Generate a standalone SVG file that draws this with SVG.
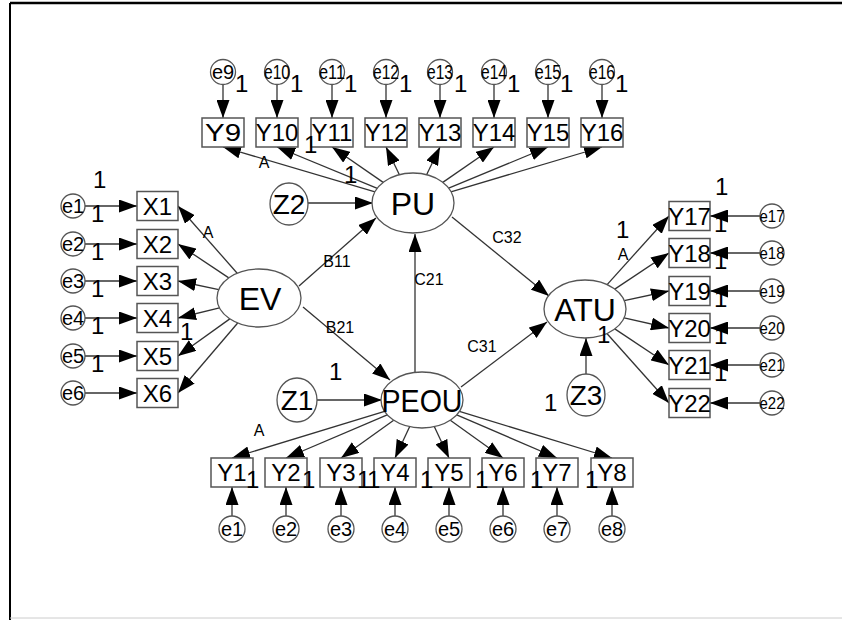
<svg xmlns="http://www.w3.org/2000/svg" width="842" height="620" viewBox="0 0 842 620">
<style>
text{font-family:"Liberation Sans",Arial,sans-serif;fill:#000}
.c line{stroke:#333;stroke-width:1.3;fill:none}
.box{fill:#fff;stroke:#555;stroke-width:1.5}
.ell{fill:#fff;stroke:#555;stroke-width:1.3}
.bl{font-size:24px;text-anchor:middle}
.el{font-size:20px;text-anchor:middle}
.lt{font-size:32px;text-anchor:middle}
.zl{font-size:28px;text-anchor:middle}
.pl{font-size:16px;text-anchor:middle}
.one{font-size:24px}
</style>
<defs>
<marker id="ah" markerWidth="18" markerHeight="13" refX="18" refY="6.5" orient="auto" markerUnits="userSpaceOnUse"><path d="M0,0 L18,6.5 L0,13 z" fill="#000"/></marker>
</defs>
<rect width="842" height="620" fill="#fff"/>
<g id="frame">
<line x1="10" y1="3" x2="842" y2="3" stroke="#000" stroke-width="2.5"/>
<line x1="10" y1="3" x2="10" y2="620" stroke="#000" stroke-width="2"/>
<line x1="10" y1="618" x2="842" y2="618" stroke="#ccc" stroke-width="1"/>
</g>
<g id="connectors" class="c" marker-end="url(#ah)">
<line x1="223" y1="84" x2="223" y2="118"/><line x1="277" y1="84" x2="277" y2="118"/><line x1="332" y1="84" x2="332" y2="118"/><line x1="386" y1="84" x2="386" y2="118"/><line x1="440" y1="84" x2="440" y2="118"/><line x1="494" y1="84" x2="494" y2="118"/><line x1="548" y1="84" x2="548" y2="118"/><line x1="602" y1="84" x2="602" y2="118"/>
<line x1="85" y1="206" x2="137" y2="206"/><line x1="85" y1="244" x2="137" y2="244"/><line x1="85" y1="281" x2="137" y2="281"/><line x1="85" y1="318" x2="137" y2="318"/><line x1="85" y1="356" x2="137" y2="356"/><line x1="85" y1="393" x2="137" y2="393"/>
<line x1="760" y1="216" x2="710" y2="216"/><line x1="760" y1="253" x2="710" y2="253"/><line x1="760" y1="291" x2="710" y2="291"/><line x1="760" y1="328" x2="710" y2="328"/><line x1="760" y1="365" x2="710" y2="365"/><line x1="760" y1="403" x2="710" y2="403"/>
<line x1="232" y1="516" x2="232" y2="487"/><line x1="286" y1="516" x2="286" y2="487"/><line x1="341" y1="516" x2="341" y2="487"/><line x1="395" y1="516" x2="395" y2="487"/><line x1="449" y1="516" x2="449" y2="487"/><line x1="503" y1="516" x2="503" y2="487"/><line x1="557" y1="516" x2="557" y2="487"/><line x1="612" y1="516" x2="612" y2="487"/>
<line x1="375" y1="191.8" x2="223" y2="147"/><line x1="377.3" y1="188.3" x2="277" y2="147"/><line x1="383.2" y1="182.4" x2="332" y2="147"/><line x1="399.4" y1="174.7" x2="386" y2="147"/><line x1="426.6" y1="174.7" x2="440" y2="147"/><line x1="442.8" y1="182.4" x2="494" y2="147"/><line x1="448.7" y1="188.2" x2="548" y2="147"/><line x1="450.9" y1="191.8" x2="602" y2="147"/>
<line x1="237.2" y1="273.2" x2="178" y2="206"/><line x1="228.8" y1="277.9" x2="178" y2="244"/><line x1="218.8" y1="289.6" x2="178" y2="281"/><line x1="219.5" y1="307.8" x2="178" y2="318"/><line x1="229.8" y1="318.9" x2="178" y2="356"/><line x1="237.7" y1="323" x2="178" y2="393"/>
<line x1="384.6" y1="411.4" x2="232" y2="458"/><line x1="387.2" y1="414.8" x2="286" y2="458"/><line x1="393.7" y1="420.3" x2="341" y2="458"/><line x1="409.6" y1="426.7" x2="395" y2="458"/><line x1="434.4" y1="426.7" x2="449" y2="458"/><line x1="450.3" y1="420.3" x2="503" y2="458"/><line x1="456.7" y1="414.9" x2="557" y2="458"/><line x1="459.4" y1="411.4" x2="612" y2="458"/>
<line x1="607.1" y1="284.6" x2="669" y2="216"/><line x1="614.8" y1="289.1" x2="669" y2="253"/><line x1="624.2" y1="300.6" x2="669" y2="291"/><line x1="624.1" y1="317.8" x2="669" y2="328"/><line x1="614.8" y1="328.9" x2="669" y2="365"/><line x1="606.9" y1="333.5" x2="669" y2="403"/>
<line x1="299" y1="286" x2="376" y2="218"/>
<line x1="303" y1="307" x2="390" y2="380"/>
<line x1="415" y1="372" x2="415" y2="234"/>
<line x1="452" y1="217" x2="549" y2="296"/>
<line x1="461" y1="387" x2="547" y2="322"/>
<line x1="307" y1="203" x2="373" y2="203"/>
<line x1="317" y1="400" x2="382" y2="400"/>
<line x1="586" y1="374" x2="586" y2="338"/>
</g>
<g id="latents">
<g id="PU"><ellipse class="ell" cx="413" cy="203" rx="41" ry="30"/><text class="lt" x="413" y="215">PU</text></g>
<g id="EV"><ellipse class="ell" cx="259" cy="298" rx="42" ry="29"/><text class="lt" x="260" y="310">EV</text></g>
<g id="ATU"><ellipse class="ell" cx="585" cy="309" rx="41" ry="29"/><text class="lt" x="585" y="321">ATU</text></g>
<g id="PEOU"><ellipse class="ell" cx="422" cy="400" rx="41" ry="28"/><text class="lt" x="422" y="412" textLength="81" lengthAdjust="spacingAndGlyphs">PEOU</text></g>
<g id="Z2"><ellipse class="ell" cx="289" cy="204" rx="19" ry="21"/><text class="zl" x="289" y="214">Z2</text></g>
<g id="Z1"><ellipse class="ell" cx="297" cy="400" rx="20" ry="22"/><text class="zl" x="297" y="410">Z1</text></g>
<g id="Z3"><ellipse class="ell" cx="586" cy="395" rx="19" ry="21"/><text class="zl" x="586" y="405">Z3</text></g>
</g>
<g id="top-indicators">
<g id="Y9"><rect class="box" x="202" y="118" width="42" height="29"/><text class="bl" x="223" y="141" textLength="36" lengthAdjust="spacingAndGlyphs">Y9</text></g>
<g id="Y10"><rect class="box" x="256" y="118" width="42" height="29"/><text class="bl" x="277" y="141">Y10</text></g>
<g id="Y11"><rect class="box" x="311" y="118" width="42" height="29"/><text class="bl" x="332" y="141">Y11</text></g>
<g id="Y12"><rect class="box" x="365" y="118" width="42" height="29"/><text class="bl" x="386" y="141">Y12</text></g>
<g id="Y13"><rect class="box" x="419" y="118" width="42" height="29"/><text class="bl" x="440" y="141">Y13</text></g>
<g id="Y14"><rect class="box" x="473" y="118" width="42" height="29"/><text class="bl" x="494" y="141">Y14</text></g>
<g id="Y15"><rect class="box" x="527" y="118" width="42" height="29"/><text class="bl" x="548" y="141">Y15</text></g>
<g id="Y16"><rect class="box" x="581" y="118" width="42" height="29"/><text class="bl" x="602" y="141">Y16</text></g>
</g>
<g id="left-indicators">
<g id="X1"><rect class="box" x="137" y="191.5" width="41" height="29"/><text class="bl" x="157.5" y="214.5">X1</text></g>
<g id="X2"><rect class="box" x="137" y="229.5" width="41" height="29"/><text class="bl" x="157.5" y="252.5">X2</text></g>
<g id="X3"><rect class="box" x="137" y="266.5" width="41" height="29"/><text class="bl" x="157.5" y="289.5">X3</text></g>
<g id="X4"><rect class="box" x="137" y="303.5" width="41" height="29"/><text class="bl" x="157.5" y="326.5">X4</text></g>
<g id="X5"><rect class="box" x="137" y="341.5" width="41" height="29"/><text class="bl" x="157.5" y="364.5">X5</text></g>
<g id="X6"><rect class="box" x="137" y="378.5" width="41" height="29"/><text class="bl" x="157.5" y="401.5">X6</text></g>
</g>
<g id="right-indicators">
<g id="Y17"><rect class="box" x="669" y="201.5" width="41" height="29"/><text class="bl" x="689.5" y="224.5">Y17</text></g>
<g id="Y18"><rect class="box" x="669" y="238.5" width="41" height="29"/><text class="bl" x="689.5" y="261.5">Y18</text></g>
<g id="Y19"><rect class="box" x="669" y="276.5" width="41" height="29"/><text class="bl" x="689.5" y="299.5">Y19</text></g>
<g id="Y20"><rect class="box" x="669" y="313.5" width="41" height="29"/><text class="bl" x="689.5" y="336.5">Y20</text></g>
<g id="Y21"><rect class="box" x="669" y="350.5" width="41" height="29"/><text class="bl" x="689.5" y="373.5">Y21</text></g>
<g id="Y22"><rect class="box" x="669" y="388.5" width="41" height="29"/><text class="bl" x="689.5" y="411.5">Y22</text></g>
</g>
<g id="bottom-indicators">
<g id="Y1"><rect class="box" x="211" y="458" width="42" height="29"/><text class="bl" x="232" y="481">Y1</text></g>
<g id="Y2"><rect class="box" x="265" y="458" width="42" height="29"/><text class="bl" x="286" y="481">Y2</text></g>
<g id="Y3"><rect class="box" x="320" y="458" width="42" height="29"/><text class="bl" x="341" y="481">Y3</text></g>
<g id="Y4"><rect class="box" x="374" y="458" width="42" height="29"/><text class="bl" x="395" y="481">Y4</text></g>
<g id="Y5"><rect class="box" x="428" y="458" width="42" height="29"/><text class="bl" x="449" y="481">Y5</text></g>
<g id="Y6"><rect class="box" x="482" y="458" width="42" height="29"/><text class="bl" x="503" y="481">Y6</text></g>
<g id="Y7"><rect class="box" x="536" y="458" width="42" height="29"/><text class="bl" x="557" y="481">Y7</text></g>
<g id="Y8"><rect class="box" x="591" y="458" width="42" height="29"/><text class="bl" x="612" y="481">Y8</text></g>
</g>
<g id="errors-top">
<g id="e9"><circle class="ell" cx="223" cy="72" r="12.5"/><text class="el" x="223" y="79">e9</text></g>
<g id="e10"><circle class="ell" cx="277" cy="72" r="12.5"/><text class="el" x="277" y="79" textLength="26" lengthAdjust="spacingAndGlyphs">e10</text></g>
<g id="e11"><circle class="ell" cx="332" cy="72" r="12.5"/><text class="el" x="332" y="79" textLength="26" lengthAdjust="spacingAndGlyphs">e11</text></g>
<g id="e12"><circle class="ell" cx="386" cy="72" r="12.5"/><text class="el" x="386" y="79" textLength="26" lengthAdjust="spacingAndGlyphs">e12</text></g>
<g id="e13"><circle class="ell" cx="440" cy="72" r="12.5"/><text class="el" x="440" y="79" textLength="26" lengthAdjust="spacingAndGlyphs">e13</text></g>
<g id="e14"><circle class="ell" cx="494" cy="72" r="12.5"/><text class="el" x="494" y="79" textLength="26" lengthAdjust="spacingAndGlyphs">e14</text></g>
<g id="e15"><circle class="ell" cx="548" cy="72" r="12.5"/><text class="el" x="548" y="79" textLength="26" lengthAdjust="spacingAndGlyphs">e15</text></g>
<g id="e16"><circle class="ell" cx="602" cy="72" r="12.5"/><text class="el" x="602" y="79" textLength="26" lengthAdjust="spacingAndGlyphs">e16</text></g>
</g>
<g id="errors-left">
<g id="e1a"><circle class="ell" cx="73" cy="206" r="12"/><text class="el" x="73" y="213">e1</text></g>
<g id="e2a"><circle class="ell" cx="73" cy="244" r="12"/><text class="el" x="73" y="251">e2</text></g>
<g id="e3a"><circle class="ell" cx="73" cy="281" r="12"/><text class="el" x="73" y="288">e3</text></g>
<g id="e4a"><circle class="ell" cx="73" cy="318" r="12"/><text class="el" x="73" y="325">e4</text></g>
<g id="e5a"><circle class="ell" cx="73" cy="356" r="12"/><text class="el" x="73" y="363">e5</text></g>
<g id="e6a"><circle class="ell" cx="73" cy="393" r="12"/><text class="el" x="73" y="400">e6</text></g>
</g>
<g id="errors-right">
<g id="e17"><circle class="ell" cx="772" cy="216" r="12"/><text class="el" x="772" y="222" style="font-size:17px" textLength="25" lengthAdjust="spacingAndGlyphs">e17</text></g>
<g id="e18"><circle class="ell" cx="772" cy="253" r="12"/><text class="el" x="772" y="259" style="font-size:17px" textLength="25" lengthAdjust="spacingAndGlyphs">e18</text></g>
<g id="e19"><circle class="ell" cx="772" cy="291" r="12"/><text class="el" x="772" y="297" style="font-size:17px" textLength="25" lengthAdjust="spacingAndGlyphs">e19</text></g>
<g id="e20"><circle class="ell" cx="772" cy="328" r="12"/><text class="el" x="772" y="334" style="font-size:17px" textLength="25" lengthAdjust="spacingAndGlyphs">e20</text></g>
<g id="e21"><circle class="ell" cx="772" cy="365" r="12"/><text class="el" x="772" y="371" style="font-size:17px" textLength="25" lengthAdjust="spacingAndGlyphs">e21</text></g>
<g id="e22"><circle class="ell" cx="772" cy="403" r="12"/><text class="el" x="772" y="409" style="font-size:17px" textLength="25" lengthAdjust="spacingAndGlyphs">e22</text></g>
</g>
<g id="errors-bottom">
<g id="e1b"><circle class="ell" cx="232" cy="529" r="13"/><text class="el" x="232" y="536">e1</text></g>
<g id="e2b"><circle class="ell" cx="286" cy="529" r="13"/><text class="el" x="286" y="536">e2</text></g>
<g id="e3b"><circle class="ell" cx="341" cy="529" r="13"/><text class="el" x="341" y="536">e3</text></g>
<g id="e4b"><circle class="ell" cx="395" cy="529" r="13"/><text class="el" x="395" y="536">e4</text></g>
<g id="e5b"><circle class="ell" cx="449" cy="529" r="13"/><text class="el" x="449" y="536">e5</text></g>
<g id="e6b"><circle class="ell" cx="503" cy="529" r="13"/><text class="el" x="503" y="536">e6</text></g>
<g id="e7b"><circle class="ell" cx="557" cy="529" r="13"/><text class="el" x="557" y="536">e7</text></g>
<g id="e8b"><circle class="ell" cx="612" cy="529" r="13"/><text class="el" x="612" y="536">e8</text></g>
</g>
<g id="path-labels">
<text class="pl" x="337" y="267">B11</text>
<text class="pl" x="340" y="333">B21</text>
<text class="pl" x="429" y="285">C21</text>
<text class="pl" x="507" y="243">C32</text>
<text class="pl" x="482" y="352">C31</text>
<text class="pl" x="264" y="168">A</text>
<text class="pl" x="208" y="238">A</text>
<text class="pl" x="623" y="260">A</text>
<text class="pl" x="259" y="436">A</text>
</g>
<g id="ones" class="one">
<text class="one" x="235" y="92">1</text><text class="one" x="290" y="92">1</text><text class="one" x="344" y="92">1</text><text class="one" x="399" y="92">1</text><text class="one" x="454" y="92">1</text><text class="one" x="507" y="92">1</text><text class="one" x="560" y="92">1</text><text class="one" x="615" y="92">1</text>
<text class="one" x="304" y="153">1</text><text class="one" x="344" y="183">1</text>
<text class="one" x="93" y="188">1</text>
<text class="one" x="91" y="222">1</text><text class="one" x="91" y="260">1</text><text class="one" x="91" y="297">1</text><text class="one" x="91" y="334">1</text><text class="one" x="91" y="372">1</text>
<text class="one" x="180" y="340">1</text>
<text class="one" x="715" y="195">1</text>
<text class="one" x="714" y="232">1</text><text class="one" x="714" y="269">1</text><text class="one" x="714" y="307">1</text><text class="one" x="714" y="344">1</text><text class="one" x="714" y="381">1</text>
<text class="one" x="616" y="238">1</text><text class="one" x="597" y="343">1</text>
<text class="one" x="329" y="380">1</text><text class="one" x="544" y="411">1</text>
<text class="one" x="246" y="488">1</text><text class="one" x="302" y="488">1</text><text class="one" x="357" y="488">1</text><text class="one" x="367" y="488">1</text><text class="one" x="420" y="488">1</text><text class="one" x="475" y="488">1</text><text class="one" x="530" y="488">1</text><text class="one" x="585" y="488">1</text>
</g>
</svg>
